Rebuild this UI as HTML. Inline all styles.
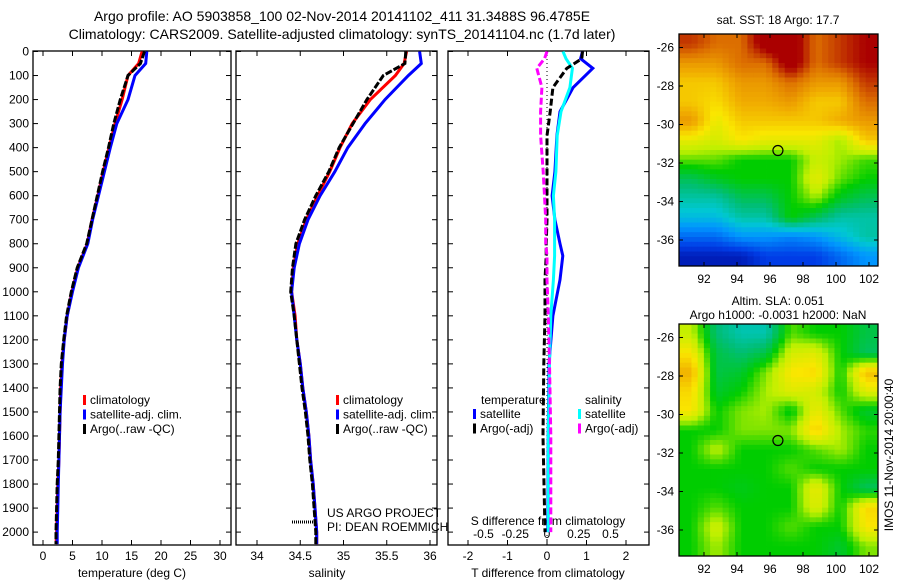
<!DOCTYPE html>
<html><head><meta charset="utf-8"><style>
body{margin:0;background:#fff;}
svg{display:block;font-family:"Liberation Sans",sans-serif;}
</style></head><body>
<svg id="fig" width="900" height="580" xmlns="http://www.w3.org/2000/svg">
<text x="342" y="21" font-size="14" text-anchor="middle">Argo profile: AO 5903858_100 02-Nov-2014 20141102_411 31.3488S 96.4785E</text>
<text x="342" y="39" font-size="14" text-anchor="middle">Climatology: CARS2009. Satellite-adjusted climatology: synTS_20141104.nc (1.7d later)</text>
<g id="g1"></g>
<g id="g2"></g>
<g id="g3"></g>
<g id="m1"></g>
<g id="m2"></g>
</svg>
<script>
const NS="http://www.w3.org/2000/svg";
// ---- data ----
const depths=[0,50,100,200,300,400,500,600,700,800,900,1000,1100,1200,1300,1400,1500,1600,1700,1800,1900,2000,2050];
const tempClim=[16.8,16.2,14.4,13.4,12.2,11.2,10.2,9.3,8.3,7.5,5.9,4.9,4.1,3.6,3.2,3.0,2.9,2.8,2.7,2.5,2.4,2.3,2.2];
const tempSat=[17.6,17.4,15.6,14.4,12.5,11.4,10.4,9.4,8.4,7.6,6.0,5.0,4.1,3.6,3.3,3.1,2.9,2.8,2.7,2.6,2.5,2.4,2.4];
const tempArgo=[17.2,16.5,14.4,13.1,12.0,11.1,10.1,9.2,8.3,7.4,5.8,4.8,4.0,3.5,3.1,2.9,2.8,2.7,2.6,2.4,2.3,2.2,2.2];
const salClim=[35.73,35.70,35.60,35.31,35.10,34.96,34.84,34.70,34.57,34.47,34.42,34.40,34.44,34.46,34.50,34.53,34.57,34.60,34.62,34.65,34.67,34.69,34.69];
const salSat=[35.88,35.90,35.75,35.48,35.25,35.05,34.90,34.73,34.59,34.49,34.43,34.40,34.43,34.46,34.50,34.53,34.57,34.60,34.62,34.65,34.67,34.69,34.69];
const salArgo=[35.72,35.71,35.46,35.27,35.11,34.95,34.83,34.68,34.55,34.45,34.41,34.39,34.43,34.46,34.49,34.52,34.56,34.59,34.61,34.64,34.66,34.68,34.68];
const diffDepths=[0,30,70,150,250,350,500,600,700,800,850,950,1100,1300,1600,2000];
const tDiffSat=[0.9,0.85,1.16,0.66,0.33,0.25,0.2,0.13,0.2,0.33,0.4,0.33,0.15,0.05,0.03,0.02];
const tDiffArgo=[0.9,0.88,0.5,0.15,0.08,0.0,0.0,0.0,0.0,-0.02,-0.02,-0.05,-0.05,-0.08,-0.1,-0.05];
const sDiffSat=[0.126,0.15,0.2,0.18,0.11,0.08,0.07,0.05,0.06,0.06,0.06,0.05,0.03,0.02,0.01,0.01];
const sDiffArgo=[0.0,-0.02,-0.08,-0.04,-0.05,-0.05,-0.03,-0.02,-0.01,-0.01,0.0,0.0,0.01,0.02,0.03,0.03];
const depthTicks=[0,100,200,300,400,500,600,700,800,900,1000,1100,1200,1300,1400,1500,1600,1700,1800,1900,2000];
const tempTicks=[0,5,10,15,20,25,30];
const salTicks=[34,34.5,35,35.5,36];
const tdTicks=[-2,-1,0,1,2];
const sdTicks=[-0.5,-0.25,0,0.25,0.5];
const sdTickLabels=["-0.5","-0.25","0","0.25","0.5"];
const lonTicks=[92,94,96,98,100,102];
const latTicks=[-26,-28,-30,-32,-34,-36];
const sst=[
[21,20.5,20.5,22,22,20.5,21,21.5],
[20,20,20.5,20.5,22,20.5,21,21.5],
[19.5,19.5,20,20,20.5,20,20,21],
[19.5,19.3,19.8,19.8,20,19.5,19.5,20.5],
[20,19,19.5,19.5,19.5,19.5,19.8,20],
[19,18.8,19.2,19,19,19,18.5,19.5],
[18.3,18.3,18,18,18,18.7,18.5,18.2],
[17.5,17.8,18,18,18,19,18.3,18],
[17,17,17.5,17.5,18,18.5,17.8,17.5],
[16.5,16.5,17,17,18,17.5,17,17],
[15.5,15.5,16,16,15.8,16,16.5,17],
[14.5,14.5,14.5,15,15,15,15.5,16]];
const sla=[
[0.05,-0.05,-0.08,-0.08,0.02,0.0,0.0,-0.03],
[0.09,-0.03,-0.05,-0.03,0.06,0.07,0.0,-0.04],
[0.13,-0.03,-0.02,0.03,0.09,0.1,0.0,0.12],
[0.1,-0.02,0.0,0.04,0.07,0.06,0.0,0.07],
[0.09,0.0,0.03,0.04,-0.01,0.08,0.02,-0.02],
[0.0,0.0,0.03,0.03,0.03,0.11,0.04,0.01],
[0.0,0.05,0.0,0.0,0.0,0.02,0.04,0.0],
[0.0,0.0,0.0,0.0,0.02,0.0,0.0,0.0],
[0.0,0.0,-0.01,0.0,0.0,0.08,0.0,-0.04],
[0.0,0.02,0.0,0.0,0.0,0.07,0.0,0.1],
[0.0,0.06,0.0,0.0,0.02,0.0,0.0,0.09],
[0.0,0.04,0.0,0.0,0.0,0.0,-0.02,0.03]];
const argoLon=96.48, argoLat=-31.35;

// ---- helpers ----
const yD=d=>51.5+d*0.2403;
function mk(parent,tag,attrs,text){const e=document.createElementNS(NS,tag);for(const k in attrs)e.setAttribute(k,attrs[k]);if(text!==undefined)e.textContent=text;parent.appendChild(e);return e;}
function frame(g,x0,x1,y0,y1,name){
  const r=mk(g,'rect',{x:x0,y:y0,width:x1-x0,height:y1-y0,fill:'none',stroke:'#000','stroke-width':1.3});
  
  
}
function line(g,xs,ys,xf,color,w,dash,name){
  const d=xs.map((v,i)=>(i?'L':'M')+xf(v).toFixed(1)+','+yD(ys[i]).toFixed(1)).join('');
  const p=mk(g,'path',{d:d,fill:'none',stroke:color,'stroke-width':w});
  if(dash)p.setAttribute('stroke-dasharray',dash);
  
  
}
function xTicks(g,ticks,labels,xf,y0,y1,ly){
  ticks.forEach((t,i)=>{
    const x=xf(t);
    mk(g,'line',{x1:x,x2:x,y1:y1,y2:y1-5,stroke:'#000'});
    mk(g,'line',{x1:x,x2:x,y1:y0,y2:y0+5,stroke:'#000'});
    const tx=mk(g,'text',{x:x,y:ly,'font-size':12,'text-anchor':'middle'},labels[i]);
    
    
  });
}
function depthTickMarks(g,x0,x1,labels){
  depthTicks.forEach(d=>{
    const y=yD(d);
    mk(g,'line',{x1:x0,x2:x0+5,y1:y,y2:y,stroke:'#000'});
    mk(g,'line',{x1:x1,x2:x1-5,y1:y,y2:y,stroke:'#000'});
    if(labels){const t=mk(g,'text',{x:x0-4,y:y+4,'font-size':12,'text-anchor':'end'},String(d));
      
      }
  });
}
function legend(g,x,y,items){
  items.forEach((it,i)=>{
    const yy=y+i*14.5;
    mk(g,'rect',{x:x,y:yy-9,width:3,height:10,fill:it[1]});
    const t=mk(g,'text',{x:x+7,y:yy,'font-size':12},it[0]);
    
    
  });
}
const Y0=51,Y1=545;
// ---- panel 1: temperature ----
const g1=document.getElementById('g1');
const xT=v=>43+v*5.9;
frame(g1,33,231,Y0,Y1,'temperature-axes');
depthTickMarks(g1,33,231,true);
xTicks(g1,tempTicks,tempTicks.map(String),xT,Y0,Y1,560);
line(g1,tempClim,depths,xT,'#f00',3,null,'temperature-climatology-line');
line(g1,tempSat,depths,xT,'#00f',3,null,'temperature-satellite-line');
line(g1,tempArgo,depths,xT,'#000',3,'7,2','temperature-argo-line');
legend(g1,83,404,[['climatology','#f00'],['satellite-adj. clim.','#00f'],['Argo(..raw -QC)','#000']]);
mk(g1,'text',{x:132,y:577,'font-size':12,'text-anchor':'middle'},'temperature (deg C)');
// ---- panel 2: salinity ----
const g2=document.getElementById('g2');
const xS=v=>257+(v-34)*86.5;
frame(g2,236,437,Y0,Y1,'salinity-axes');
depthTickMarks(g2,236,437,false);
xTicks(g2,salTicks,salTicks.map(String),xS,Y0,Y1,560);
line(g2,salClim,depths,xS,'#f00',3,null,'salinity-climatology-line');
line(g2,salSat,depths,xS,'#00f',3,null,'salinity-satellite-line');
line(g2,salArgo,depths,xS,'#000',3,'7,2','salinity-argo-line');
legend(g2,336,404,[['climatology','#f00'],['satellite-adj. clim.','#00f'],['Argo(..raw -QC)','#000']]);
mk(g2,'text',{x:327,y:577,'font-size':12,'text-anchor':'middle'},'salinity');
mk(g2,'text',{x:327,y:517,'font-size':12},'US ARGO PROJECT');
mk(g2,'text',{x:327,y:531,'font-size':12},'PI: DEAN ROEMMICH');
mk(g2,'line',{x1:292,x2:314,y1:522,y2:522,stroke:'#000','stroke-width':3,'stroke-dasharray':'1,1'});
// ---- panel 3: differences ----
const g3=document.getElementById('g3');
const xTd=v=>547+v*39.5, xSd=v=>547+v*127;
frame(g3,448,649,Y0,Y1,'difference-axes');
depthTickMarks(g3,448,649,false);
xTicks(g3,tdTicks,tdTicks.map(String),xTd,Y0,Y1,560);
sdTicks.forEach((t,i)=>{const tx=mk(g3,'text',{x:xSd(t),y:538,'font-size':12,'text-anchor':'middle'},sdTickLabels[i]);
  
  });
mk(g3,'text',{x:548,y:525,'font-size':12,'text-anchor':'middle'},'S difference from climatology');
mk(g3,'line',{x1:547,x2:547,y1:Y0,y2:Y1,stroke:'#000','stroke-dasharray':'1,3'});
line(g3,tDiffSat,diffDepths,xTd,'#00f',3,null,'t-diff-satellite-line');
line(g3,sDiffSat,diffDepths,xSd,'#0ff',3,null,'s-diff-satellite-line');
line(g3,tDiffArgo,diffDepths,xTd,'#000',3,'7,3','t-diff-argo-line');
line(g3,sDiffArgo,diffDepths,xSd,'#f0f',3,'7,3','s-diff-argo-line');
mk(g3,'text',{x:481,y:404,'font-size':12},'temperature');
mk(g3,'text',{x:585,y:404,'font-size':12},'salinity');
legend(g3,473,418,[['satellite','#00f'],['Argo(-adj)','#000']]);
legend(g3,578,418,[['satellite','#0ff'],['Argo(-adj)','#f0f']]);
mk(g3,'text',{x:548,y:577,'font-size':12,'text-anchor':'middle'},'T difference from climatology');
// ---- maps ----
const cmStops=[[0,[0,0,140]],[1/7.5,[0,60,230]],[2/7.5,[0,150,255]],[2.7/7.5,[0,200,210]],[3.3/7.5,[0,190,120]],[4/7.5,[0,205,0]],[4.6/7.5,[190,240,0]],[5.2/7.5,[250,230,0]],[5.8/7.5,[240,170,0]],[6.5/7.5,[220,110,0]],[1,[170,0,0]]];
function cmap(t){t=Math.max(0,Math.min(1,t));
  for(let i=1;i<cmStops.length;i++){if(t<=cmStops[i][0]){const a=cmStops[i-1],b=cmStops[i],f=(t-a[0])/(b[0]-a[0]);
    return 'rgb('+a[1].map((c,k)=>Math.round(c+(b[1][k]-c)*f)).join(',')+')';}}
  return 'rgb(170,0,0)';}
function sample(grid,r,c){const R=grid.length,C=grid[0].length;
  r=Math.max(0,Math.min(R-1,r));c=Math.max(0,Math.min(C-1,c));
  const r0=Math.floor(r),c0=Math.floor(c),r1=Math.min(R-1,r0+1),c1=Math.min(C-1,c0+1),fr=r-r0,fc=c-c0;
  return grid[r0][c0]*(1-fr)*(1-fc)+grid[r0][c1]*(1-fr)*fc+grid[r1][c0]*fr*(1-fc)+grid[r1][c1]*fr*fc;}
function map(id,y0,grid,vmin,vmax,title,title2){
  const g=document.getElementById(id);
  const x0=679,x1=878,y1=y0+232;
  const lonX=l=>704+(l-92)*16.5, latY=l=>y0+13.5+(-26-l)*19.25;
  const rows=grid.length, cols=grid[0].length, U=4, RR=rows*U, CC=cols*U;
  const cw=(x1-x0)/CC, ch=(y1-y0)/RR;
  for(let i=0;i<RR;i++)for(let j=0;j<CC;j++){
    const v=sample(grid,(i+0.5)/U-0.5,(j+0.5)/U-0.5);
    const c=mk(g,'rect',{x:(x0+j*cw).toFixed(2),y:(y0+i*ch).toFixed(2),width:(cw+0.4).toFixed(2),height:(ch+0.4).toFixed(2),fill:cmap((v-vmin)/(vmax-vmin))});
    
    
  }
  frame(g,x0,x1,y0,y1,id+'-frame');
  lonTicks.forEach(l=>{const x=lonX(l);mk(g,'line',{x1:x,x2:x,y1:y1,y2:y1-4,stroke:'#000'});mk(g,'line',{x1:x,x2:x,y1:y0,y2:y0+4,stroke:'#000'});
    const t=mk(g,'text',{x:x,y:y1+17,'font-size':12,'text-anchor':'middle'},String(l));
    
    });
  latTicks.forEach(l=>{const y=latY(l);mk(g,'line',{x1:x0,x2:x0+4,y1:y,y2:y,stroke:'#000'});mk(g,'line',{x1:x1,x2:x1-4,y1:y,y2:y,stroke:'#000'});
    const t=mk(g,'text',{x:x0-5,y:y+4,'font-size':12,'text-anchor':'end'},String(l));
    
    });
  const m=mk(g,'circle',{cx:lonX(argoLon),cy:latY(argoLat),r:5,fill:'none',stroke:'#000','stroke-width':1.2});
  
  
  if(title2){mk(g,'text',{x:778,y:y0-19,'font-size':12,'text-anchor':'middle'},title);mk(g,'text',{x:778,y:y0-5,'font-size':12,'text-anchor':'middle'},title2);}
  else mk(g,'text',{x:778,y:y0-10,'font-size':12,'text-anchor':'middle'},title);
}
map('m1',34,sst,14,21.5,'sat. SST: 18 Argo: 17.7');
map('m2',324,sla,-0.3,0.2625,'Altim. SLA: 0.051','Argo h1000: -0.0031 h2000: NaN');
const v=mk(document.getElementById('m2'),'text',{x:0,y:0,'font-size':12,'text-anchor':'middle',transform:'translate(893,455) rotate(-90)'},'IMOS 11-Nov-2014 20:00:40');


</script>
</body></html>
